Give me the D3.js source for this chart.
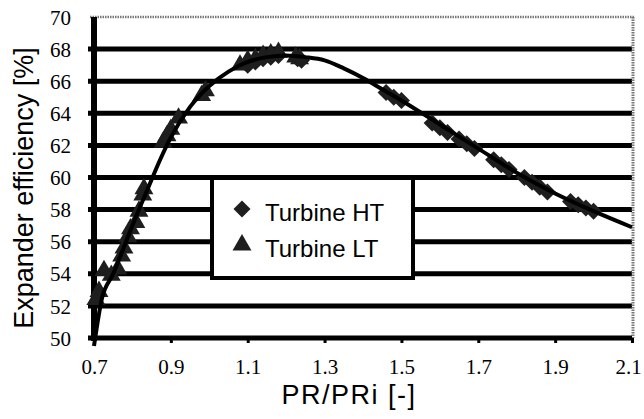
<!DOCTYPE html>
<html>
<head>
<meta charset="utf-8">
<script src="https://cdn.jsdelivr.net/npm/d3@7"></script>
<style>
  html, body { margin: 0; padding: 0; background: #fff; }
  svg { display: block; }
</style>
</head>
<body>
<div id="chart"></div>
<script>
// ---- Data ----
const xTicks = [0.7, 0.9, 1.1, 1.3, 1.5, 1.7, 1.9, 2.1];
const yTicks = [50, 52, 54, 56, 58, 60, 62, 64, 66, 68, 70];

// Fitted efficiency curve
const curveX = [0.70, 0.72, 0.75, 0.78, 0.81, 0.84, 0.87, 0.90, 0.95, 1.00, 1.05, 1.10, 1.15, 1.20, 1.25, 1.30, 1.35, 1.40, 1.45, 1.50, 1.60, 1.70, 1.80, 1.90, 2.00, 2.10];
const curveY = [49.5, 52.4, 54.0, 55.8, 57.6, 59.3, 61.0, 62.5, 64.4, 65.7, 66.6, 67.2, 67.5, 67.6, 67.5, 67.3, 66.8, 66.2, 65.5, 64.8, 63.3, 61.8, 60.3, 59.0, 57.9, 56.9];

// Turbine HT (diamonds)
const htX = [1.10, 1.12, 1.14, 1.16, 1.18, 1.23, 1.24, 1.46, 1.48, 1.50, 1.58, 1.60, 1.62, 1.65, 1.67, 1.69, 1.74, 1.76, 1.78, 1.82, 1.84, 1.86, 1.88, 1.94, 1.96, 1.98, 2.00];
const htY = [67.0, 67.2, 67.4, 67.5, 67.6, 67.4, 67.3, 65.3, 65.0, 64.8, 63.4, 63.1, 62.8, 62.4, 62.1, 61.8, 61.1, 60.8, 60.5, 60.0, 59.7, 59.4, 59.1, 58.5, 58.3, 58.1, 57.9];

// Turbine LT (triangles)
const ltX = [0.705, 0.713, 0.726, 0.745, 0.762, 0.772, 0.778, 0.788, 0.795, 0.809, 0.817, 0.827, 0.830, 0.880, 0.890, 0.900, 0.920, 0.980, 0.990, 1.080, 1.100, 1.120, 1.140, 1.160, 1.180, 1.225, 1.235];
const ltY = [52.4, 52.9, 54.2, 53.9, 54.3, 55.1, 55.6, 56.3, 56.8, 57.2, 57.9, 58.9, 59.3, 62.2, 62.6, 63.0, 63.7, 65.1, 65.4, 67.0, 67.3, 67.4, 67.6, 67.7, 67.8, 67.5, 67.4];

const seriesNames = ["Turbine HT", "Turbine LT"];
const xTitle = "PR/PRi [-]";
const yTitle = "Expander efficiency [%]";

// ---- Layout ----
const W = 644, H = 419;
const x0 = 94, x1 = 632, yTop = 17, yBot = 338;

const svg = d3.select("#chart").append("svg")
  .attr("width", W).attr("height", H)
  .style("background", "#fff");

const x = d3.scaleLinear().domain([0.7, 2.1]).range([x0, x1]);
const y = d3.scaleLinear().domain([50, 70]).range([yBot, yTop]);

const tickFont = "'Liberation Serif', 'DejaVu Serif', serif";
const sansFont = "'Liberation Sans', Arial, sans-serif";

// Horizontal gridlines (thick black), top one grey dotted
const gridG = svg.append("g");
gridG.selectAll("line.grid")
  .data(yTicks.filter(d => d > 50 && d < 70))
  .join("line")
  .attr("x1", x0 - 6).attr("x2", x1)
  .attr("y1", d => y(d)).attr("y2", d => y(d))
  .attr("stroke", "#000").attr("stroke-width", 5);

gridG.append("line")
  .attr("x1", x0 - 4).attr("x2", x1 + 2)
  .attr("y1", y(70)).attr("y2", y(70))
  .attr("stroke", "#777").attr("stroke-width", 2.5)
  .attr("stroke-dasharray", "1.5,1");

// Right border grey dotted
gridG.append("line")
  .attr("x1", x1 + 1).attr("x2", x1 + 1)
  .attr("y1", y(70)).attr("y2", yBot)
  .attr("stroke", "#777").attr("stroke-width", 3)
  .attr("stroke-dasharray", "1.5,1");

// X axis
const xAxis = d3.axisBottom(x).tickValues(xTicks).tickSize(5).tickFormat(d3.format(".1f"));
const xg = svg.append("g").attr("transform", `translate(0,${yBot})`).call(xAxis);
xg.select(".domain").attr("stroke", "#000").attr("stroke-width", 5)
  .attr("d", `M${x0 - 6},0H${x1}`);
xg.selectAll(".tick line").attr("stroke", "#000").attr("stroke-width", 3);
xg.selectAll(".tick text")
  .attr("font-family", tickFont).attr("font-size", 21).attr("fill", "#000")
  .attr("dy", null).attr("y", 36)
  .attr("x", (d, i) => i === xTicks.length - 1 ? -4 : 0);

// Y axis
const yAxis = d3.axisLeft(y).tickValues(yTicks).tickSize(0).tickFormat(d3.format("d"));
const yg = svg.append("g").attr("transform", `translate(${x0},0)`).call(yAxis);
yg.select(".domain").attr("stroke", "#000").attr("stroke-width", 6)
  .attr("d", `M0,${y(70)}V${yBot + 3}`);
yg.selectAll(".tick text")
  .attr("font-family", tickFont).attr("font-size", 21).attr("fill", "#000")
  .attr("x", -23).attr("dy", "0.34em");

// Curve
const curvePts = curveX.map((d, i) => [d, curveY[i]]);
const line = d3.line().x(d => x(d[0])).y(d => y(d[1])).curve(d3.curveMonotoneX);

// Markers
const diamond = d3.symbol().type(d3.symbolSquare).size(145);
const triangle = d3.symbol().type(d3.symbolTriangle).size(155);
const markColor = "#1e1e1e";

svg.append("g").selectAll("path")
  .data(ltX.map((d, i) => [d, ltY[i]]))
  .join("path")
  .attr("d", triangle)
  .attr("transform", d => `translate(${x(d[0])},${y(d[1])})`)
  .attr("fill", markColor);

svg.append("g").selectAll("path")
  .data(htX.map((d, i) => [d, htY[i]]))
  .join("path")
  .attr("d", diamond)
  .attr("transform", d => `translate(${x(d[0])},${y(d[1])}) rotate(45)`)
  .attr("fill", markColor);

svg.append("path")
  .datum(curvePts)
  .attr("d", line)
  .attr("fill", "none")
  .attr("stroke", "#000")
  .attr("stroke-width", 4);

// Legend
const lg = svg.append("g");
lg.append("rect")
  .attr("x", 212).attr("y", 178).attr("width", 201).attr("height", 100)
  .attr("fill", "#fff").attr("stroke", "#000").attr("stroke-width", 4);
lg.append("path").attr("d", diamond)
  .attr("transform", "translate(242,209) rotate(45)").attr("fill", markColor);
lg.append("path").attr("d", triangle)
  .attr("transform", "translate(242,245)").attr("fill", markColor);
lg.selectAll("text.leg").data(seriesNames).join("text")
  .attr("x", 265).attr("y", (d, i) => 221 + i * 36)
  .attr("font-family", sansFont).attr("font-size", 24).attr("fill", "#000")
  .text(d => d);

// Axis titles
svg.append("text")
  .attr("transform", `translate(33,188) rotate(-90)`)
  .attr("text-anchor", "middle")
  .attr("font-family", sansFont).attr("font-size", 27).attr("fill", "#000")
  .text(yTitle);

svg.append("text")
  .attr("x", 349).attr("y", 404)
  .attr("text-anchor", "middle")
  .attr("font-family", sansFont).attr("font-size", 27).attr("fill", "#000")
  .attr("letter-spacing", 1.5)
  .text(xTitle);
</script>
</body>
</html>
